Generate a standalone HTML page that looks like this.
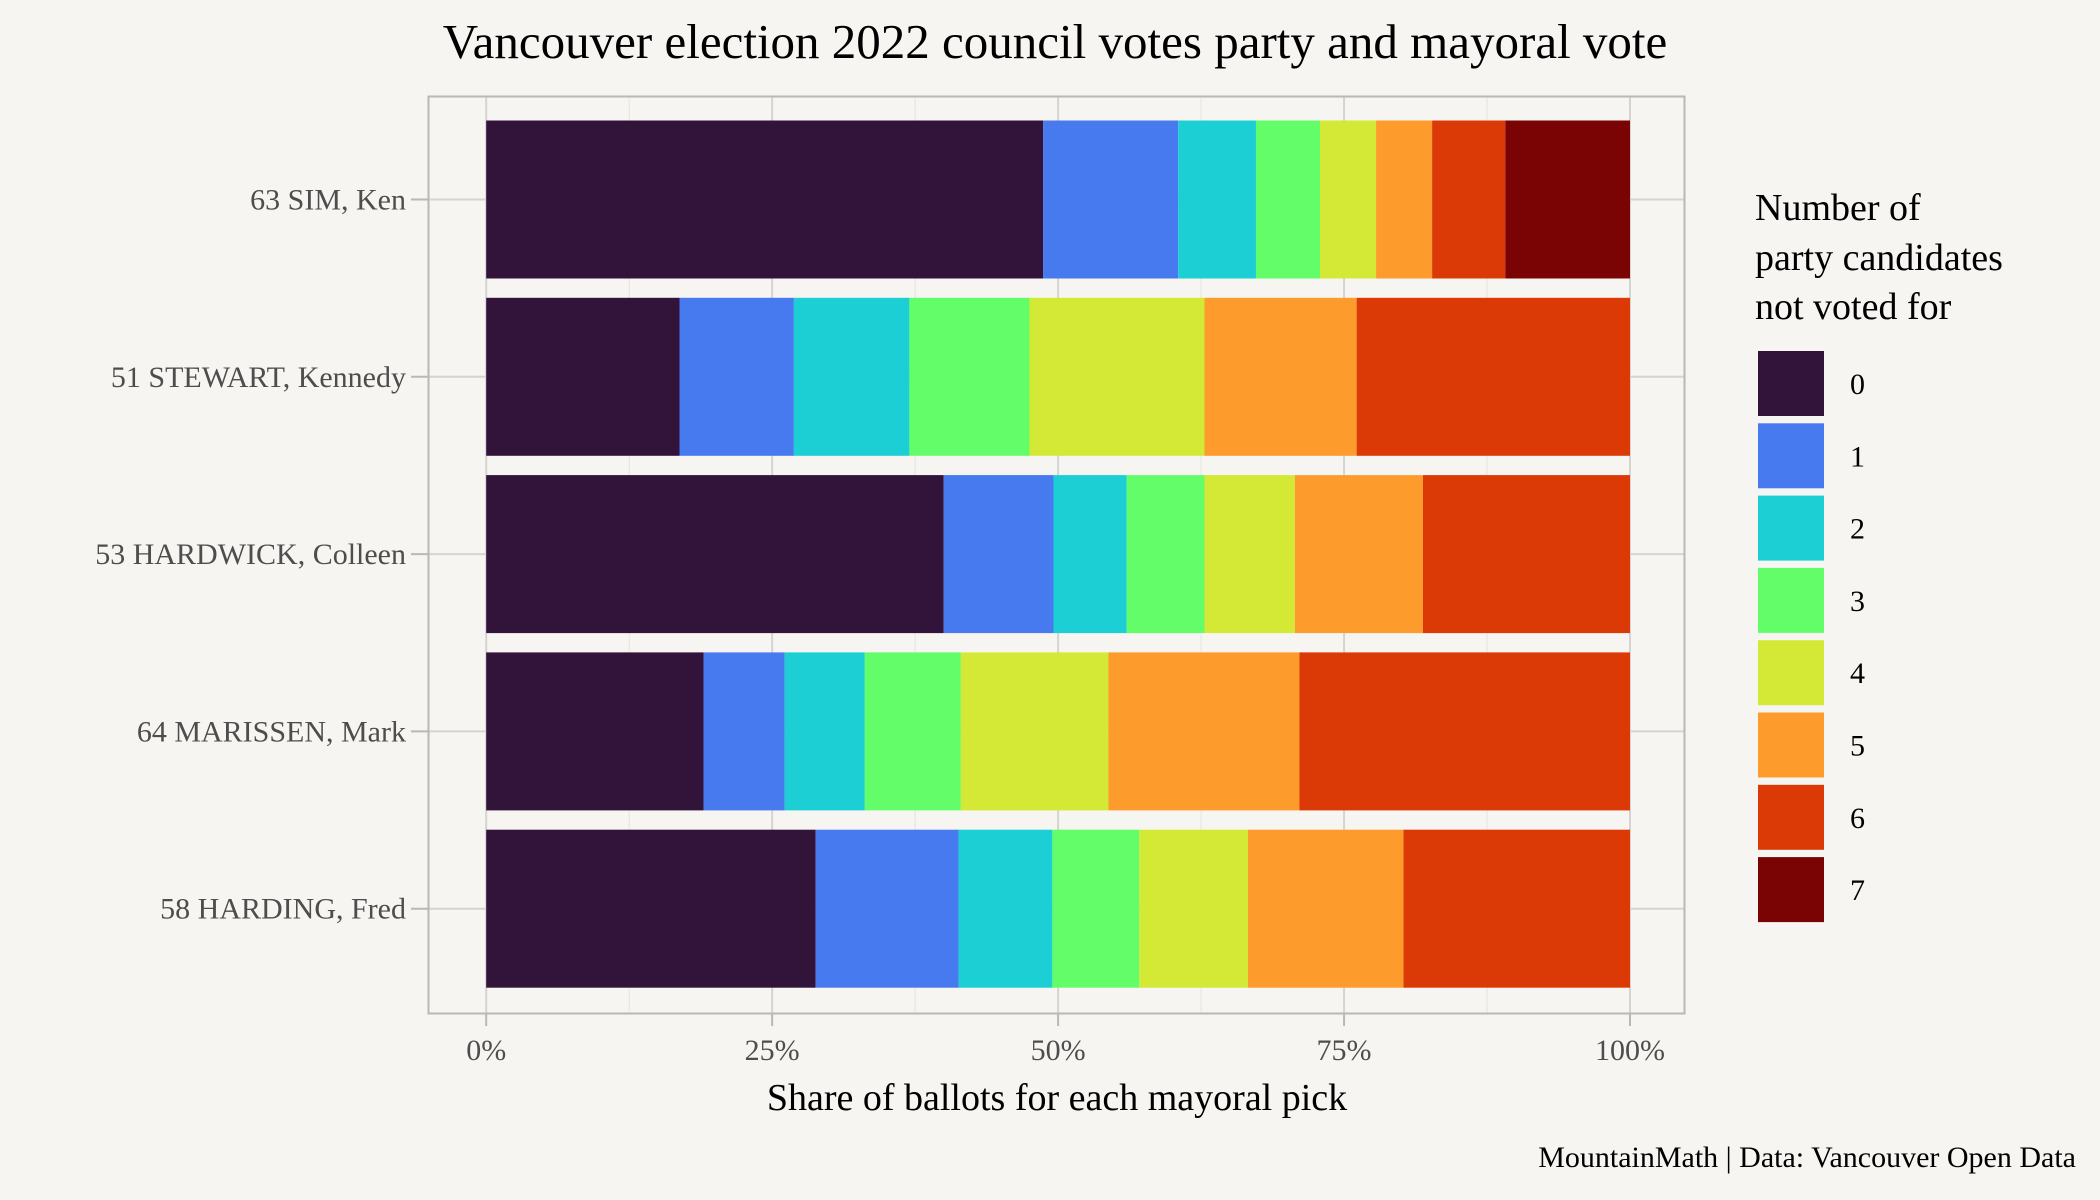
<!DOCTYPE html>
<html><head><meta charset="utf-8"><style>
html,body{margin:0;padding:0;background:#f7f5f1;}
svg{display:block;font-family:"Liberation Serif",serif;}
</style></head><body>
<svg id="chart" width="2100" height="1200" viewBox="0 0 2100 1200">
<rect x="0" y="0" width="2100" height="1200" fill="#f7f5f1"/>
<text x="1055" y="58" text-anchor="middle" font-size="49" fill="#000">Vancouver election 2022 council votes party and mayoral vote</text>
<g id="grid"></g>
<g id="bars"></g>
<rect x="428.5" y="96.5" width="1256" height="917" fill="none" stroke="#b8b8b8" stroke-width="2"/>
<g id="yaxis"></g>
<g id="xaxis"></g>
<text x="1057" y="1110" text-anchor="middle" font-size="38" fill="#000">Share of ballots for each mayoral pick</text>
<text x="2076" y="1167" text-anchor="end" font-size="30" fill="#000">MountainMath | Data: Vancouver Open Data</text>
<g font-size="38" fill="#000">
<text x="1755" y="220">Number of</text>
<text x="1755" y="270">party candidates</text>
<text x="1755" y="319">not voted for</text>
</g>
<g id="legend"></g>
</svg>
<script>
const categories = ["63 SIM, Ken","51 STEWART, Kennedy","53 HARDWICK, Colleen","64 MARISSEN, Mark","58 HARDING, Fred"];
const groups = ["0","1","2","3","4","5","6","7"];
const colors = ["#32133a","#4779ef","#1ccfd5","#64fd6a","#d3e936","#fd9b2d","#db3a07","#7a0403"];
const s0 = [48.7,16.9,40.0,19.0,28.8];
const s1 = [11.8,10.0,9.6,7.1,12.5];
const s2 = [6.8,10.1,6.4,7.0,8.2];
const s3 = [5.6,10.5,6.8,8.4,7.6];
const s4 = [4.9,15.3,7.9,12.9,9.5];
const s5 = [4.9,13.3,11.2,16.7,13.6];
const s6 = [6.4,23.9,18.1,28.9,19.8];
const s7 = [10.9,0,0,0,0];
const xTicks = [0,25,50,75,100];
const xTickLabels = ["0%","25%","50%","75%","100%"];
const series = [s0,s1,s2,s3,s4,s5,s6,s7];
const NS = "http://www.w3.org/2000/svg";
const x = v => 486.2 + (1630 - 486.2) * v / 100;
const bandTop = 96.5, bandStep = 177.3;
const yc = i => bandTop + 103 + i * bandStep;
const barH = 158;
function mk(tag, attrs, parent){const e=document.createElementNS(NS,tag);for(const k in attrs)e.setAttribute(k,attrs[k]);parent.appendChild(e);return e;}
const grid = document.getElementById('grid');
for (let i=0;i<xTicks.length-1;i++){
  const m=(xTicks[i]+xTicks[i+1])/2;
  const l=mk('line',{x1:x(m),x2:x(m),y1:97,y2:1013,stroke:'#e6e3df','stroke-width':1},grid);
  
  
}
xTicks.forEach(t=>{
  const l=mk('line',{x1:x(t),x2:x(t),y1:97,y2:1013,stroke:'#d6d4d1','stroke-width':2},grid);
  
  
});
categories.forEach((c,i)=>{
  const l=mk('line',{x1:429,x2:1684,y1:yc(i),y2:yc(i),stroke:'#d6d4d1','stroke-width':2},grid);
  
  
});
const bars=document.getElementById('bars');
categories.forEach((c,i)=>{
  let cum=0;
  series.forEach((s,g)=>{
    const v=s[i]; if(v<=0){return;}
    const r=mk('rect',{x:x(cum),y:yc(i)-barH/2,width:x(cum+v)-x(cum),height:barH,fill:colors[g]},bars);
    
    
    cum+=v;
  });
});
const ya=document.getElementById('yaxis');
categories.forEach((c,i)=>{
  const tk=mk('line',{x1:411,x2:429,y1:yc(i),y2:yc(i),stroke:'#b8b8b8','stroke-width':2},ya);
  
  
  const t=mk('text',{x:406,y:yc(i)+10,'text-anchor':'end','font-size':30,fill:'#4d4d4d'},ya);
  t.textContent=c;
  
  
});
const xa=document.getElementById('xaxis');
xTicks.forEach((v,i)=>{
  const tk=mk('line',{x1:x(v),x2:x(v),y1:1014,y2:1026,stroke:'#b8b8b8','stroke-width':2},xa);
  
  
  const t=mk('text',{x:x(v),y:1060,'text-anchor':'middle','font-size':30,fill:'#4d4d4d'},xa);
  t.textContent=xTickLabels[i];
  
  
});
const lg=document.getElementById('legend');
groups.forEach((g,i)=>{
  const y0=351+i*72.3;
  const r=mk('rect',{x:1758,y:y0,width:66,height:65,fill:colors[i]},lg);
  
  
  const t=mk('text',{x:1850,y:y0+43,'font-size':30,fill:'#000'},lg);
  t.textContent=g;
  
  
});
</script>
</body></html>
